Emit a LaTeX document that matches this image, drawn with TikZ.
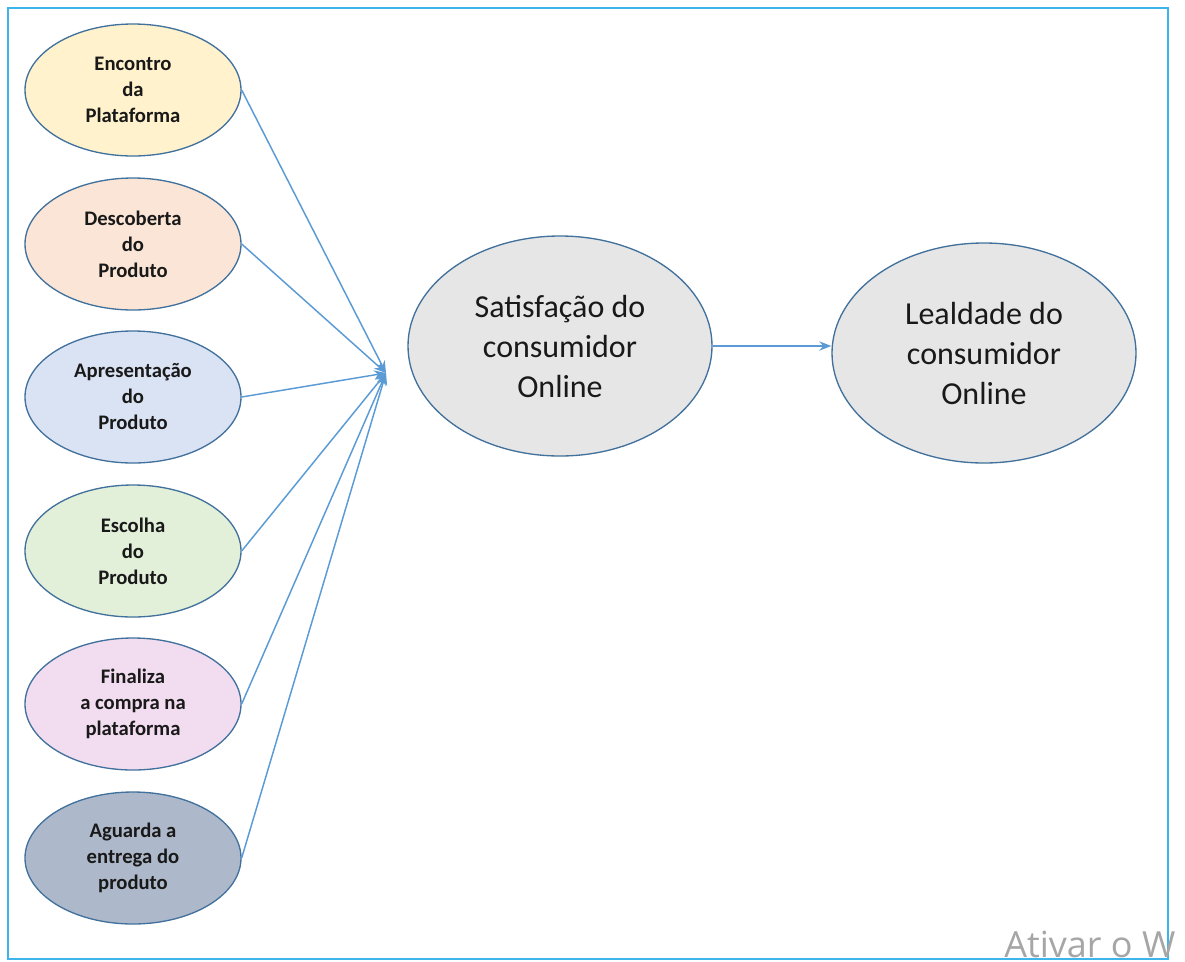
\documentclass[tikz,border=0pt]{standalone}
\usepackage{fontspec}
\setmainfont{Carlito}
\newfontfamily\wmfont{Open Sans}
\usetikzlibrary{shapes.geometric,arrows.meta}
\definecolor{frameblue}{HTML}{3DB5EA}
\definecolor{edgeblue}{HTML}{41719C}
\definecolor{arrowblue}{HTML}{5B9BD5}
\definecolor{cA}{HTML}{FFF2CC}
\definecolor{cB}{HTML}{FBE5D6}
\definecolor{cC}{HTML}{DAE3F3}
\definecolor{cD}{HTML}{E2F0D9}
\definecolor{cE}{HTML}{F2DCF0}
\definecolor{cF}{HTML}{ADB9CA}
\definecolor{cG}{HTML}{E6E6E6}
\tikzset{
  stage/.style={ellipse, draw=edgeblue, line width=1pt, inner sep=0pt,
    minimum width=162pt, minimum height=99pt, align=center,
    font=\fontsize{15.5}{19.5}\selectfont\bfseries, text=black!90},
  bigell/.style={ellipse, draw=edgeblue, line width=1pt, fill=cG, inner sep=0pt,
    minimum width=228pt, minimum height=165pt, align=center,
    font=\fontsize{24}{30}\selectfont, text=black!90},
  conn/.style={draw=arrowblue, line width=1.1pt, -{Stealth[length=9pt,width=7pt]}}
}
\begin{document}
\begin{tikzpicture}[x=0.75pt,y=-0.75pt]
\useasboundingbox (0,0) rectangle (1185,961);
\fill[white] (0,0) rectangle (1185,961);
\draw[frameblue, line width=1.6pt] (8,8) rectangle (1168,959);
\node[anchor=base west, inner sep=0pt, text=black!35, font=\wmfont\fontsize{27}{30}\selectfont] (wm) at (1004,957) {Ativar o W};
\node[stage, fill=cA] (e1) at (133,90) {Encontro\\da\\Plataforma};
\node[stage, fill=cB] (e2) at (133,244) {Descoberta\\do\\Produto};
\node[stage, fill=cC] (e3) at (133,397) {Apresentação\\do\\Produto};
\node[stage, fill=cD] (e4) at (133,551) {Escolha\\do\\Produto};
\node[stage, fill=cE] (e5) at (133,704) {Finaliza\\a compra na\\plataforma};
\node[stage, fill=cF] (e6) at (133,858) {Aguarda a\\entrega do\\produto};
\node[bigell] (sat) at (560,346) {Satisfação do\\consumidor\\Online};
\node[bigell] (leal) at (984,353) {Lealdade do\\consumidor\\Online};
\coordinate (conv) at (386,373);
\foreach \n in {e1,e2,e3,e4,e5,e6}{
  \draw[conn] (\n.east) -- (conv);
}
\draw[conn] (sat.east) -- (sat.east -| leal.west);
\end{tikzpicture}
\end{document}
